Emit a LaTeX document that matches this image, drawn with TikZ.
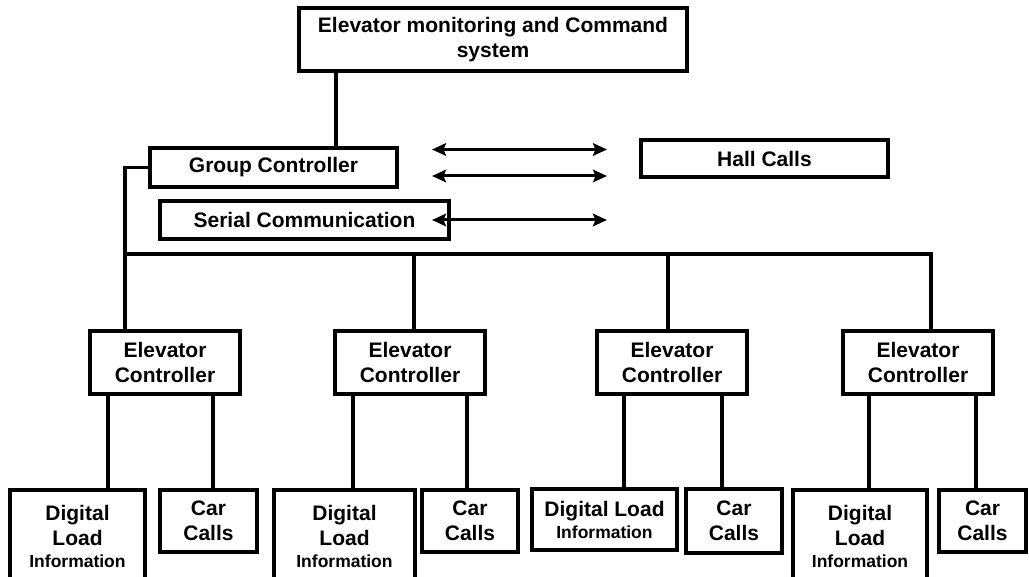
\documentclass[tikz,border=0pt]{standalone}
\usepackage{fontspec}
\setmainfont{Liberation Sans}
\usetikzlibrary{arrows.meta}
\begin{document}
\begin{tikzpicture}[x=1pt,y=-1pt,
  box/.style={draw, line width=3.5pt, inner sep=0pt, align=center,
    font=\fontsize{21}{25}\selectfont\bfseries},
  ctrl/.style={box, minimum width=150pt, minimum height=63pt},
  carbox/.style={box, minimum width=96pt, minimum height=62pt},
  wire/.style={line width=3.5pt},
  tip/.tip={Stealth[length=14pt,width=12.5pt,inset=2.5pt]},
  dblarrow/.style={line width=3pt, tip-tip}]
\clip (0,0) rectangle (1029,577);
\fill[white] (0,0) rectangle (1029,577);

% upper level
\node[box, minimum width=388pt, minimum height=63pt] (top) at (493,39.5)
  {Elevator monitoring and Command\\system};
\node[box, minimum width=247pt, minimum height=39pt] (gc) at (273.5,167.5) {Group Controller};
\node[box, minimum width=289pt, minimum height=38pt] (sc) at (304.5,220) {Serial Communication};
\node[box, minimum width=247pt, minimum height=37pt] (hall) at (764.5,158.5) {Hall Calls};

% elevator controllers
\node[ctrl] (ec1) at (165,362.5) {Elevator\\Controller};
\node[ctrl] (ec2) at (410,362.5) {Elevator\\Controller};
\node[ctrl] (ec3) at (672,362.5) {Elevator\\Controller};
\node[ctrl] (ec4) at (918,362.5) {Elevator\\Controller};

% load information and car call boxes
\node[box, minimum width=135pt, minimum height=92pt] (dl1) at (77.5,536)
  {Digital\\Load\\[-3pt]{\fontsize{17.5}{20}\selectfont Information}};
\node[carbox, minimum width=97pt] (car1) at (208.5,521) {Car\\Calls};
\node[box, minimum width=141pt, minimum height=92pt] (dl2) at (344.5,536)
  {Digital\\Load\\[-3pt]{\fontsize{17.5}{20}\selectfont Information}};
\node[carbox] (car2) at (470,521) {Car\\Calls};
\node[box, minimum width=145pt, minimum height=61pt] (dl3) at (604.5,519.5)
  {Digital Load\\[-3pt]{\fontsize{17.5}{20}\selectfont Information}};
\node[carbox, minimum height=64pt] (car3) at (734,521) {Car\\Calls};
\node[box, minimum width=134pt, minimum height=92pt] (dl4) at (860,536)
  {Digital\\Load\\[-3pt]{\fontsize{17.5}{20}\selectfont Information}};
\node[carbox, minimum width=87pt] (car4) at (982.5,521) {Car\\Calls};

% tap points
\coordinate (j0) at (336,0);
\coordinate (b1) at (125,254);
\coordinate (b2) at (414,254);
\coordinate (b3) at (668,254);
\coordinate (b4) at (931,254);

% connections
\draw[wire] (j0 |- top.south) -- (j0 |- gc.north);
\draw[wire] (gc.west) -| (b1 |- ec1.north);
\draw[wire] (b1) -- (b4) -- (b4 |- ec4.north);
\draw[wire] (b2) -- (b2 |- ec2.north);
\draw[wire] (b3) -- (b3 |- ec3.north);

\draw[wire] ([xshift=-57pt]ec1.south) -- ([xshift=-57pt]ec1.south |- dl1.north);
\draw[wire] ([xshift=48pt]ec1.south) -- ([xshift=48pt]ec1.south |- car1.north);
\draw[wire] ([xshift=-57pt]ec2.south) -- ([xshift=-57pt]ec2.south |- dl2.north);
\draw[wire] ([xshift=57pt]ec2.south) -- ([xshift=57pt]ec2.south |- car2.north);
\draw[wire] ([xshift=-48pt]ec3.south) -- ([xshift=-48pt]ec3.south |- dl3.north);
\draw[wire] ([xshift=50pt]ec3.south) -- ([xshift=50pt]ec3.south |- car3.north);
\draw[wire] ([xshift=-49pt]ec4.south) -- ([xshift=-49pt]ec4.south |- dl4.north);
\draw[wire] ([xshift=58pt]ec4.south) -- ([xshift=58pt]ec4.south |- car4.north);

% bidirectional links
\coordinate (a1l) at (432,149.5); \coordinate (a1r) at (607,149.5);
\coordinate (a2l) at (432,176); \coordinate (a2r) at (607,176);
\coordinate (a3l) at (432,220); \coordinate (a3r) at (607,220);
\draw[dblarrow] (a1l) -- (a1r);
\draw[dblarrow] (a2l) -- (a2r);
\draw[dblarrow] (a3l) -- (a3r);
\end{tikzpicture}
\end{document}
